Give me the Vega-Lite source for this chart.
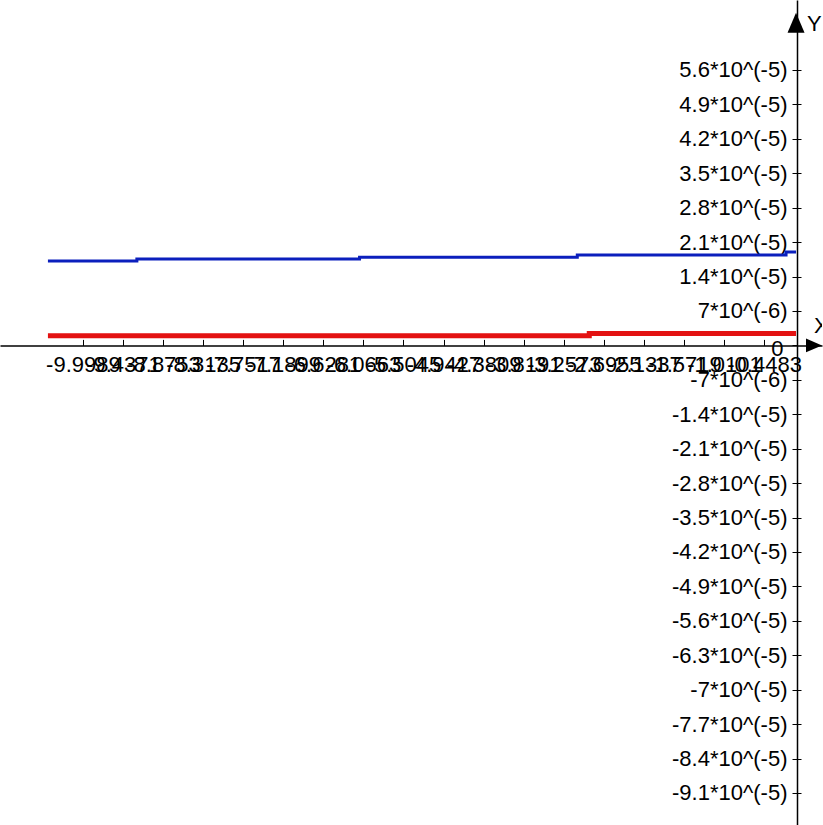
{
  "$schema": "https://vega.github.io/schema/vega-lite/v6.json",
  "width": 823,
  "height": 825,
  "autosize": {"type": "fit", "contains": "padding"},
  "padding": 0,
  "background": "white",
  "config": {
    "view": {"stroke": null},
    "axis": {
      "labelFont": "Liberation Sans",
      "labelFontSize": 22,
      "labelColor": "#000000",
      "domainColor": "#000000",
      "tickColor": "#000000",
      "grid": false,
      "title": null,
      "labelOverlap": false,
      "labelFlush": false,
      "labelBound": false
    }
  },
  "datasets": {
    "curves": [
      {"curve": "upper", "x": -10.489, "y": 1.716e-5},
      {"curve": "upper", "x": -9.242, "y": 1.757e-5},
      {"curve": "upper", "x": -6.12, "y": 1.791e-5},
      {"curve": "upper", "x": -3.067, "y": 1.838e-5},
      {"curve": "upper", "x": -0.14, "y": 1.899e-5},
      {"curve": "upper", "x": 0, "y": 1.899e-5},
      {"curve": "lower", "x": -10.489, "y": 1.95e-6},
      {"curve": "lower", "x": -2.899, "y": 2.42e-6},
      {"curve": "lower", "x": 0, "y": 2.42e-6}
    ],
    "anchor": [{}]
  },
  "resolve": {"axis": {"x": "independent", "y": "independent"}},
  "layer": [
    {
      "data": {"name": "curves"},
      "mark": {"type": "line", "interpolate": "step-after"},
      "encoding": {
        "x": {
          "field": "x",
          "type": "quantitative",
          "scale": {"domain": [-11.161, 0.364], "nice": false, "zero": false},
          "axis": {
            "orient": "bottom",
            "offset": -479.6,
            "values": [-9.99891, -9.43711, -8.87531, -8.31351, -7.75171, -7.18991, -6.62811, -6.06631, -5.50451, -4.94271, -4.38091, -3.81911, -3.25731, -2.69551, -2.13371, -1.57191, -1.01011, -0.44831],
            "ticks": false,
            "labelPadding": 9,
            "domainWidth": 1.5,
            "labelExpr": "(datum.value < 0 ? '-' : '') + format(abs(datum.value), '.4f')"
          }
        },
        "y": {
          "field": "y",
          "type": "quantitative",
          "scale": {"domain": [-9.751e-5, 7.023e-5], "nice": false, "zero": false},
          "axis": {
            "orient": "left",
            "offset": -797,
            "values": [5.6e-5, 4.9e-5, 4.2e-5, 3.5e-5, 2.8e-5, 2.1e-5, 1.4e-5, 7e-6, 0, -7e-6, -1.4e-5, -2.1e-5, -2.8e-5, -3.5e-5, -4.2e-5, -4.9e-5, -5.6e-5, -6.3e-5, -7e-5, -7.7e-5, -8.4e-5, -9.1e-5],
            "tickSize": 5,
            "labelPadding": {"condition": {"test": "datum.value === 0", "value": 9}, "value": 5},
            "labelOffset": {"condition": {"test": "datum.value === 0", "value": 3}, "value": 0},
            "domainWidth": 1.5,
            "labelExpr": "datum.value === 0 ? '0' : (datum.value < 0 ? '-' : '') + (abs(datum.value) < 1e-5 ? format(abs(datum.value) * 1e6, '.2~r') + '*10^(-6)' : format(abs(datum.value) * 1e5, '.2~r') + '*10^(-5)')"
          }
        },
        "color": {
          "field": "curve",
          "type": "nominal",
          "scale": {"domain": ["upper", "lower"], "range": ["#0b1fbd", "#e31212"]},
          "legend": null
        },
        "strokeWidth": {
          "field": "curve",
          "type": "nominal",
          "scale": {"domain": ["upper", "lower"], "range": [3, 5]},
          "legend": null
        }
      }
    },
    {
      "data": {"name": "anchor"},
      "mark": {"type": "point", "shape": "M0,-1L0.85,1L-0.85,1Z", "size": 400, "filled": true, "color": "#000000", "opacity": 1, "strokeWidth": 0},
      "encoding": {
        "x": {
          "datum": 0,
          "type": "quantitative",
          "scale": {"domain": [-11.161, 0.364], "nice": false, "zero": false},
          "axis": {
            "orient": "top",
            "offset": -345.4,
            "values": [-9.99891, -9.43711, -8.87531, -8.31351, -7.75171, -7.18991, -6.62811, -6.06631, -5.50451, -4.94271, -4.38091, -3.81911, -3.25731, -2.69551, -2.13371, -1.57191, -1.01011, -0.44831],
            "tickSize": 6,
            "labels": false,
            "domain": false
          }
        },
        "y": {
          "datum": 6.561e-5,
          "type": "quantitative",
          "scale": {"domain": [-9.751e-5, 7.023e-5], "nice": false, "zero": false},
          "axis": {
            "orient": "right",
            "offset": -26,
            "values": [5.6e-5, 4.9e-5, 4.2e-5, 3.5e-5, 2.8e-5, 2.1e-5, 1.4e-5, 7e-6, -7e-6, -1.4e-5, -2.1e-5, -2.8e-5, -3.5e-5, -4.2e-5, -4.9e-5, -5.6e-5, -6.3e-5, -7e-5, -7.7e-5, -8.4e-5, -9.1e-5],
            "tickSize": 5,
            "labels": false,
            "domain": false
          }
        }
      }
    },
    {
      "data": {"name": "anchor"},
      "mark": {"type": "point", "shape": "M1,0L-1,-0.85L-1,0.85Z", "size": 256, "filled": true, "color": "#000000", "opacity": 1, "strokeWidth": 0},
      "encoding": {
        "x": {"datum": 0.252, "type": "quantitative", "scale": {"domain": [-11.161, 0.364], "nice": false, "zero": false}, "axis": null},
        "y": {"datum": 0, "type": "quantitative", "scale": {"domain": [-9.751e-5, 7.023e-5], "nice": false, "zero": false}, "axis": null}
      }
    },
    {
      "data": {"name": "anchor"},
      "mark": {"type": "text", "font": "Liberation Sans", "fontSize": 22, "align": "left", "baseline": "middle", "color": "#000000"},
      "encoding": {
        "x": {"datum": 0.154, "type": "quantitative", "scale": {"domain": [-11.161, 0.364], "nice": false, "zero": false}, "axis": null},
        "y": {"datum": 6.535e-5, "type": "quantitative", "scale": {"domain": [-9.751e-5, 7.023e-5], "nice": false, "zero": false}, "axis": null},
        "text": {"value": "Y"}
      }
    },
    {
      "data": {"name": "anchor"},
      "mark": {"type": "text", "font": "Liberation Sans", "fontSize": 22, "align": "left", "baseline": "middle", "color": "#000000", "clip": true},
      "encoding": {
        "x": {"datum": 0.252, "type": "quantitative", "scale": {"domain": [-11.161, 0.364], "nice": false, "zero": false}, "axis": null},
        "y": {"datum": 3.94e-6, "type": "quantitative", "scale": {"domain": [-9.751e-5, 7.023e-5], "nice": false, "zero": false}, "axis": null},
        "text": {"value": "X"}
      }
    }
  ]
}
